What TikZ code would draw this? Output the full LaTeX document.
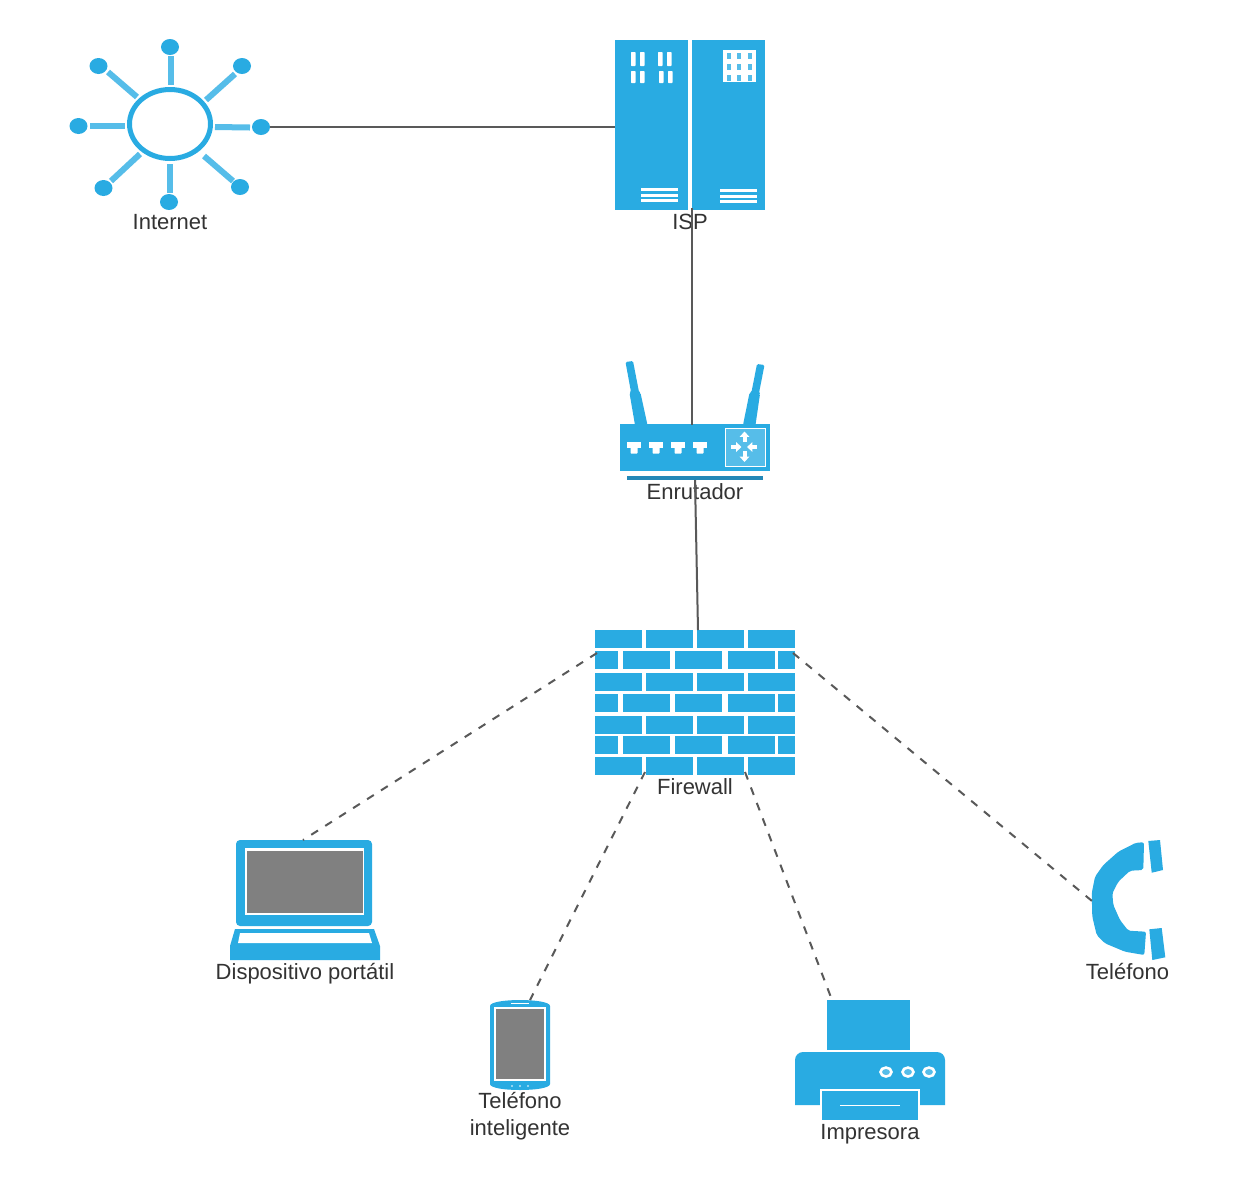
\documentclass[tikz,border=0pt]{standalone}
\usepackage{fontspec}
\setmainfont{Liberation Sans}
\usetikzlibrary{fit,arrows.meta,shapes.geometric}
\definecolor{netblue}{HTML}{29ABE2}
\definecolor{netlight}{HTML}{56BDE9}
\definecolor{netdark}{HTML}{2388B8}
\definecolor{netline}{HTML}{595959}
\definecolor{nettext}{HTML}{333333}
\definecolor{netgray}{HTML}{808080}
\tikzset{
  px/.style={x=0.75pt,y=-0.75pt},
  bluefill/.style={fill=netblue,draw=none},
  whitefill/.style={fill=white,draw=none},
  lightfill/.style={fill=netlight,draw=none},
  grayfill/.style={fill=netgray,draw=none},
  spoke/.style={draw=netlight,line width=4.5pt},
  dotnode/.style={ellipse,fill=netblue,draw=none,minimum width=13.5pt,minimum height=12pt,inner sep=0pt},
  iconbox/.style={inner sep=0pt,draw=none},
  label/.style={text=nettext,font=\fontsize{16.5pt}{20pt}\selectfont,anchor=base,inner sep=0pt},
  solidlink/.style={draw=netline,line width=1.5pt},
  dashlink/.style={draw=netline,line width=1.5pt,dash pattern=on 6pt off 6.4pt},
  wharrow/.style={draw=white,line width=3pt,-{Triangle[width=7pt,length=4pt]}},
}
\newcommand{\brick}[4]{\fill[bluefill] (#1,#3) rectangle (#2,#4);}
\begin{document}
\begin{tikzpicture}[px]
\useasboundingbox (0,0) rectangle (1235,1190);
\fill[white] (0,0) rectangle (1235,1190);

% ---------- Internet
\draw[draw=netblue,line width=3.75pt] (170,124) ellipse [x radius=40.5,y radius=34.5];
\node[iconbox,fit={(127,87)(213,161)}] (internet) {};
\draw[spoke] (170.5,56) -- (170.5,85);
\draw[spoke] (235,74) -- (206,100);
\draw[spoke] (215,127) -- (250,127.5);
\draw[spoke] (204,156) -- (233,181);
\draw[spoke] (170,164) -- (170,193);
\draw[spoke] (140,154) -- (111,181);
\draw[spoke] (90,126) -- (125,126);
\draw[spoke] (108,72) -- (137,97);
\node[dotnode] (dotT) at (170,47) {};
\node[dotnode] (dotTR) at (242,66) {};
\node[dotnode] (dotR) at (261,127) {};
\node[dotnode] (dotBR) at (240,187) {};
\node[dotnode] (dotB) at (169,202) {};
\node[dotnode] (dotBL) at (103.5,188) {};
\node[dotnode] (dotL) at (78.5,126) {};
\node[dotnode] (dotTL) at (98.5,66) {};

% ---------- ISP
\node[iconbox,fit={(615,40)(765,210)}] (isp) {};
\fill[bluefill] (615,40) rectangle (687.5,210);
\fill[bluefill] (692,40) rectangle (765,210);
\foreach \xa in {631,640,658,667} \fill[whitefill,rounded corners=0.5pt] (\xa,52) rectangle (\xa+4.5,66);
\foreach \xa in {631,640,659,668} \fill[whitefill,rounded corners=0.5pt] (\xa,71) rectangle (\xa+4.5,83);
\fill[whitefill] (723,50) rectangle (756,82);
\foreach \xa in {727,737,748} \foreach \ya in {53,64,75} \fill[lightfill] (\xa,\ya) rectangle (\xa+4,\ya+6);
\foreach \ya in {188,194,199} \fill[whitefill] (641,\ya) rectangle (678,\ya+3);
\foreach \ya in {189,195,200} \fill[whitefill] (720,\ya) rectangle (757,\ya+3);
\coordinate (ispBottom) at (692,208);

% ---------- Router
\node[iconbox,fit={(620,424)(770,471)}] (router) {};
\fill[bluefill] (620,424) rectangle (770,471);
\fill[bluefill,rounded corners=1pt] (635,425) -- (629.5,393) -- (631,392) -- (625.5,362) -- (633,361) -- (639,392) -- (640.5,393) -- (647.5,425) -- cycle;
\fill[bluefill,rounded corners=1pt] (743,425) -- (749.5,393) -- (751.5,392) -- (757,364) -- (764.5,365) -- (759,393) -- (760,394) -- (755.5,425) -- cycle;
\fill[netdark] (627,476) rectangle (763,480);
\foreach \xa in {627,649,671,693} {
  \fill[whitefill] (\xa,442) rectangle (\xa+14,448);
  \fill[whitefill,rounded corners=0.5pt] (\xa+3.5,447) rectangle (\xa+10.5,453.5);
}
\fill[lightfill,draw=white,line width=0.75pt] (725,428.5) rectangle (765,466);
\draw[wharrow] (744.5,442) -- (744.5,431.5);
\draw[wharrow] (744.5,451) -- (744.5,462);
\draw[wharrow] (757,447) -- (747,447);
\draw[wharrow] (731,447) -- (741.5,447);
\coordinate (routerTop) at (692,425);
\coordinate (routerBottom) at (695,480);

% ---------- Firewall
\node[iconbox,fit={(595,630)(795,775)}] (firewall) {};
\foreach \ya/\yb in {630/648,673/691,716/734,757/775} {
  \brick{595}{642}{\ya}{\yb}
  \brick{646}{692.5}{\ya}{\yb}
  \brick{697}{744}{\ya}{\yb}
  \brick{748}{795}{\ya}{\yb}
}
\foreach \ya/\yb in {651/669,694/712,736/754} {
  \brick{595}{618}{\ya}{\yb}
  \brick{623}{670}{\ya}{\yb}
  \brick{675}{722}{\ya}{\yb}
  \brick{728}{774.5}{\ya}{\yb}
  \brick{778}{795}{\ya}{\yb}
}
\coordinate (fwTop) at (698,630);
\coordinate (fwLeft) at (597,653);
\coordinate (fwRight) at (793,653);
\coordinate (fwBotL) at (645,772);
\coordinate (fwBotR) at (745,772);

% ---------- Laptop
\node[iconbox,fit={(230,840)(380,960)}] (laptop) {};
\fill[bluefill,rounded corners=3pt] (236,840) rectangle (372,926);
\fill[whitefill] (245,848) rectangle (364,915);
\fill[grayfill] (247,851) rectangle (363,913);
\fill[bluefill] (235,929) -- (374,929) -- (380,946) -- (380,960) -- (230,960) -- (230,946) -- cycle;
\fill[whitefill] (240,933) -- (369,933) -- (372,943) -- (238,943) -- cycle;
\coordinate (laptopTop) at (303,840);

% ---------- Smartphone
\node[iconbox,fit={(490,1000)(550,1090)}] (smartphone) {};
\fill[bluefill] (490,1006) .. controls (490,1002) and (505,1000) .. (520,1000) .. controls (535,1000) and (550,1002) .. (550,1006)
  -- (550,1084) .. controls (550,1088) and (535,1090) .. (520,1090) .. controls (505,1090) and (490,1088) .. (490,1084) -- cycle;
\fill[whitefill] (494,1007) rectangle (546,1081);
\fill[grayfill] (496,1009) rectangle (544,1079);
\fill[whitefill] (511,1002.5) rectangle (529,1004);
\foreach \xa in {512,520,528} \fill[white] (\xa,1086) circle [radius=0.8];
\coordinate (smartphoneTop) at (530,1000);

% ---------- Printer
\node[iconbox,fit={(795,1000)(945,1120)}] (printer) {};
\fill[bluefill] (827,1000) rectangle (910,1050);
\fill[bluefill] (795,1105) [rounded corners=6pt] -- (795,1052) -- (945,1052) [sharp corners] -- (945,1105) -- cycle;
\fill[whitefill] (820,1089) rectangle (920,1122);
\fill[bluefill] (822,1091) rectangle (918,1120);
\fill[whitefill] (840,1104.75) rectangle (900,1105.75);
\foreach \xa in {886,908,929} \fill[lightfill,draw=white,line width=1.9pt] (\xa,1072) ellipse [x radius=5.5,y radius=4.5];
\coordinate (printerTop) at (832,1000);

% ---------- Telephone
\node[iconbox,fit={(1092,840)(1165,960)}] (telephone) {};
\fill[bluefill,rounded corners=1.5pt] (1144,842.3) -- (1136,842.7) -- (1118.3,851.7) -- (1103.3,865) -- (1095,876.7) -- (1091.7,893.3) -- (1092.3,916.7) -- (1096.7,935) -- (1105,943.3) -- (1125,951.7) -- (1144.3,955) -- (1146,931.7) -- (1128.3,930.7) -- (1120,920) -- (1113.3,905) -- (1112.3,893.3) -- (1118.3,881.7) -- (1130,870.7) -- (1143.3,870) -- cycle;
\fill[bluefill] (1148.3,841) -- (1160,840) -- (1163,870) -- (1151.7,872.7) -- cycle;
\fill[bluefill] (1149.3,929.3) -- (1161.7,928) -- (1165.3,957.3) -- (1152.3,960) -- cycle;
\coordinate (telephoneLeft) at (1092,901);

% ---------- Labels
\node[label] (lblInternet) at (170,229) {Internet};
\node[label] (lblIsp) at (690,229) {ISP};
\node[label] (lblRouter) at (695,499) {Enrutador};
\node[label] (lblFirewall) at (695,794) {Firewall};
\node[label] (lblLaptop) at (305,979) {Dispositivo portátil};
\node[label] (lblPhone1) at (520,1108) {Teléfono};
\node[label] (lblPhone2) at (520,1135) {inteligente};
\node[label] (lblPrinter) at (870,1139) {Impresora};
\node[label] (lblTelephone) at (1127.5,979) {Teléfono};

% ---------- Connectors
\draw[solidlink] (dotR.east) -- (dotR.east -| isp.west);
\draw[solidlink] (ispBottom) -- (routerTop);
\draw[solidlink] (routerBottom) -- (fwTop);
\draw[dashlink] (fwLeft) -- (laptopTop);
\draw[dashlink] (fwBotL) -- (smartphoneTop);
\draw[dashlink] (fwBotR) -- (printerTop);
\draw[dashlink] (fwRight) -- (telephoneLeft);
\end{tikzpicture}
\end{document}
